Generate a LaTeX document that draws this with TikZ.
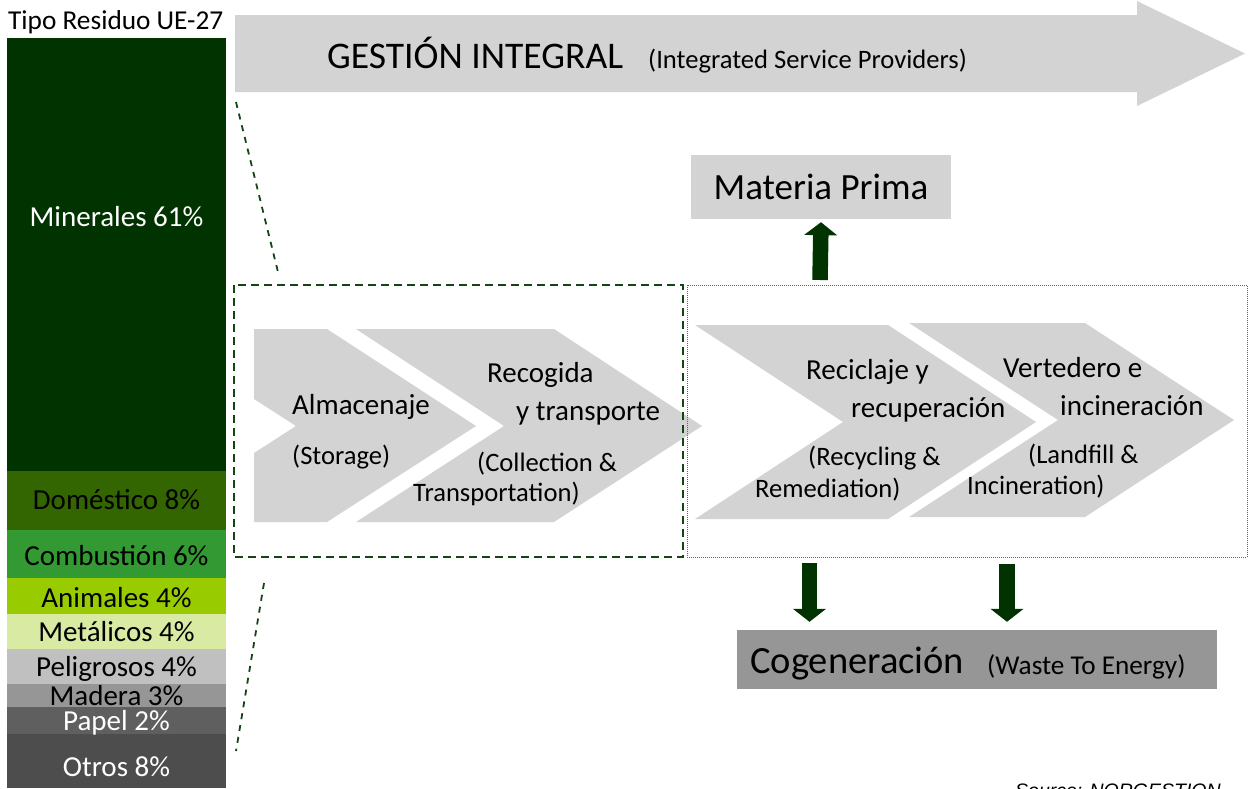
\documentclass[tikz,border=0pt]{standalone}
\usepackage{fontspec}
\setmainfont{Carlito}
\newfontfamily\fuentesrc{Liberation Sans}
\usepackage{xcolor}
\usetikzlibrary{math,arrows.meta}
\definecolor{verdeMin}{RGB}{0,51,0}
\definecolor{verdeDom}{RGB}{51,102,0}
\definecolor{verdeCom}{RGB}{51,153,51}
\definecolor{verdeAni}{RGB}{153,204,0}
\definecolor{verdeMet}{RGB}{217,234,163}
\definecolor{grisPel}{RGB}{192,192,192}
\definecolor{grisMad}{RGB}{150,150,150}
\definecolor{grisPap}{RGB}{95,95,95}
\definecolor{grisOtr}{RGB}{77,77,77}
\definecolor{grisClaro}{RGB}{211,211,211}
\definecolor{lineaVerde}{RGB}{20,70,20}
\definecolor{puntoVerde}{RGB}{70,120,70}

\begin{document}
\begin{tikzpicture}[x=1pt,y=-1pt,
	etiq/.style={inner sep=0pt,font=\fontsize{29}{32}\selectfont},
	sub/.style={inner sep=0pt,font=\fontsize{26.6}{29}\selectfont},
	grande/.style={inner sep=0pt,font=\fontsize{37.6}{40}\selectfont},
	bloque/.style={line width=15.5pt,color=verdeMin,-{Triangle[width=32.5pt,length=13pt]}},
	raya/.style={draw=lineaVerde,line width=2pt,dash pattern=on 8pt off 5pt},
	rayita/.style={draw=lineaVerde,line width=1.8pt,dash pattern=on 6pt off 6pt},
	puntos/.style={draw=puntoVerde,line width=0.8pt,dash pattern=on 1pt off 1pt},
]
\useasboundingbox (0,0) rectangle (1252,788);
\tikzmath{
	\bl = 7; \br = 226; \bc = (\bl+\br)/2;
	%
	{\fill[verdeMin] (\bl,38) rectangle (\br,471);};
	{\fill[verdeDom] (\bl,471) rectangle (\br,530);};
	{\fill[verdeCom] (\bl,530) rectangle (\br,578);};
	{\fill[verdeAni] (\bl,578) rectangle (\br,614);};
	{\fill[verdeMet] (\bl,614) rectangle (\br,649);};
	{\fill[grisPel] (\bl,649) rectangle (\br,684);};
	{\fill[grisMad] (\bl,684) rectangle (\br,707);};
	{\fill[grisPap] (\bl,707) rectangle (\br,734);};
	{\fill[grisOtr] (\bl,734) rectangle (\br,788);};
	%
	{\node[sub,anchor=base west,font=\fontsize{27.3}{30}\selectfont] (tipo) at (8,29) {Tipo Residuo UE-27};};
	{\node[etiq,anchor=base,text=white] (min) at (\bc,226) {Minerales 61\%};};
	{\node[etiq,anchor=base] (dom) at (\bc,509) {Doméstico 8\%};};
	{\node[etiq,anchor=base] (com) at (\bc,565) {Combustión 6\%};};
	{\node[etiq,anchor=base] (ani) at (\bc,607) {Animales 4\%};};
	{\node[etiq,anchor=base] (met) at (\bc,641) {Metálicos 4\%};};
	{\node[etiq,anchor=base] (pel) at (\bc,676) {Peligrosos 4\%};};
	{\node[etiq,anchor=base] (mad) at (\bc,705) {Madera 3\%};};
	{\node[etiq,anchor=base,text=white] (pap) at (\bc,730) {Papel 2\%};};
	{\node[etiq,anchor=base,text=white] (otr) at (\bc,776) {Otros 8\%};};
	%
	{\fill[grisClaro] plot[] coordinates {(235,15) (1137,15) (1137,1) (1245,53.5) (1137,106) (1137,92) (235,92) (235,15)};};
	{\node[grande,anchor=base west] (gest) at (327,68) {GESTIÓN INTEGRAL};};
	{\node[sub,anchor=base west] (isp) at (648,68) {(Integrated Service Providers)};};
	%
	{\fill[grisClaro] plot[] coordinates {(254,329) (327,329) (476,426) (327,522) (254,522) (254,453) (296,426) (254,399) (254,329)};};
	{\fill[grisClaro] plot[] coordinates {(356,329) (554,329) (702,426) (554,522) (356,522) (504,426) (356,329)};};
	{\fill[grisClaro] plot[] coordinates {(695,325) (888,325) (1036,422) (888,519) (695,519) (843,422) (695,325)};};
	{\fill[grisClaro] plot[] coordinates {(909,323) (1085,323) (1234,420) (1085,517) (909,517) (1058,420) (909,323)};};
	%
	{\node[etiq,anchor=base west] (alm) at (292,414) {Almacenaje};};
	{\node[sub,anchor=base west] (sto) at (292,464) {(Storage)};};
	{\node[etiq,anchor=base west] (rec) at (487,382) {Recogida};};
	{\node[etiq,anchor=base west] (tra) at (516,420) {y transporte};};
	{\node[sub,anchor=base west] (col) at (477,471) {(Collection \&};};
	{\node[sub,anchor=base west] (trn) at (413,501) {Transportation)};};
	{\node[etiq,anchor=base west] (recic) at (806,379) {Reciclaje y};};
	{\node[etiq,anchor=base west] (recup) at (851,417) {recuperación};};
	{\node[sub,anchor=base west] (recy) at (808,465) {(Recycling \&};};
	{\node[sub,anchor=base west] (reme) at (755,497) {Remediation)};};
	{\node[etiq,anchor=base west] (vert) at (1003,377) {Vertedero e};};
	{\node[etiq,anchor=base west] (inci) at (1060,415) {incineración};};
	{\node[sub,anchor=base west] (land) at (1028,463) {(Landfill \&};};
	{\node[sub,anchor=base west] (inc) at (967,494) {Incineration)};};
	%
	{\draw[raya] (234,285) rectangle (683,557);};
	{\draw[puntos] (687,285) rectangle (1247,557);};
	{\coordinate (z1) at (236,102);};
	{\coordinate (z2) at (278,272);};
	{\coordinate (z3) at (264,583);};
	{\coordinate (z4) at (236,751);};
	{\draw[rayita] (z1) -- (z2);};
	{\draw[rayita] (z3) -- (z4);};
	%
	{\node[grande,font=\fontsize{37}{40}\selectfont,fill=grisClaro,minimum width=260pt,minimum height=64pt] (mp) at (821,187) {Materia Prima};};
	{\coordinate (up) at (820,280);};
	{\draw[bloque] (up) -- ([yshift=-3pt]mp.south);};
	%
	{\node[fill=grisMad,minimum width=480pt,minimum height=59pt,inner sep=0pt] (cog) at (977,659.5) {};};
	{\node[grande,font=\fontsize{38.5}{41}\selectfont,anchor=base west] (cogt) at (750,673) {Cogeneración};};
	{\node[sub,font=\fontsize{27.2}{30}\selectfont,anchor=base west] (wte) at (987,674) {(Waste To Energy)};};
	{\coordinate (cn) at ([yshift=8pt]cog.north);};
	{\coordinate (d1) at (809.5,563);};
	{\coordinate (d2) at (1007,564);};
	{\draw[bloque] (d1) -- (d1 |- cn);};
	{\draw[bloque] (d2) -- (d2 |- cn);};
	%
	{\node[anchor=base west,inner sep=0pt,font=\fuentesrc\itshape\fontsize{19.5}{22}\selectfont] (src) at (1015,797) {Source: NORGESTION};};
};
\end{tikzpicture}
\end{document}
